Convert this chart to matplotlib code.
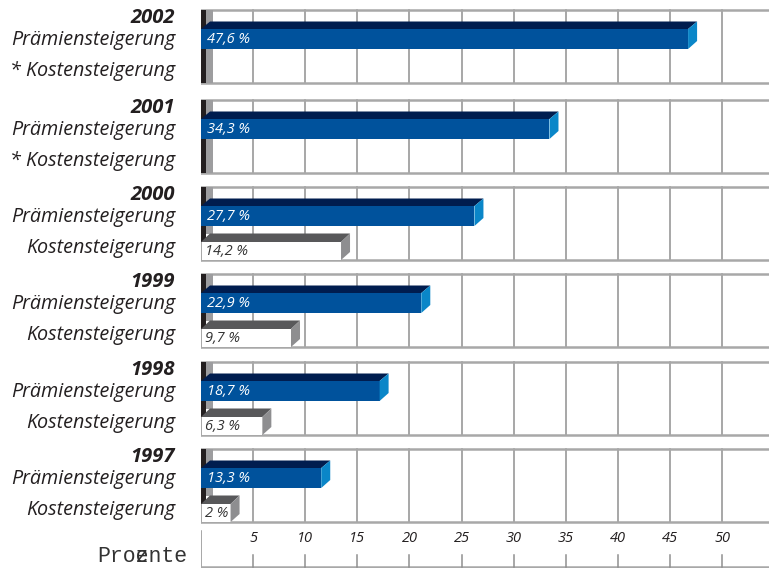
import matplotlib
matplotlib.use("Agg")
import matplotlib.pyplot as plt
from matplotlib.patches import Polygon, Rectangle

years = ['2002', '2001', '2000', '1999', '1998', '1997']
# bar lengths as drawn in the picture (read against the axis)
praemien = [47.6, 34.3, 27.1, 22.0, 18.0, 12.4]
praemien_labels = ['47,6 %', '34,3 %', '27,7 %', '22,9 %', '18,7 %', '13,3 %']
kosten = [None, None, 14.3, 9.5, 6.75, 3.7]
kosten_labels = ['', '', '14,2 %', '9,7 %', '6,3 %', '2 %']
ticks = [5, 10, 15, 20, 25, 30, 35, 40, 45, 50]

# layout (y in pixel-like units, top = 0)
panel_tops = [10, 100, 187, 274, 362, 449]
panel_h = 73
W, H = 769, 568
x0_px = 201
xmax = 54.5
dx = 9 / ((W - x0_px) / xmax)   # 3d depth in data units
dy = 8

blue_front = '#00529c'
blue_top = '#001d4f'
blue_side = '#0a86c8'
gray_top = '#58585a'
gray_side = '#8e8e90'
grid_c = '#8f8f8f'
frame_c = '#a8a8a8'

fig = plt.figure(figsize=(W / 100, H / 100), dpi=100)
ax = fig.add_axes([x0_px / W, 0, (W - x0_px) / W, 1])
ax.set_xlim(0, xmax)
ax.set_ylim(H, 0)
ax.axis('off')

lab_font = 'Open Sans'

for i, T in enumerate(panel_tops):
    B = T + panel_h
    # grid and frame
    for t in ticks:
        ax.plot([t, t], [T, B], color=grid_c, lw=1.1, zorder=1)
    ax.plot([0, xmax], [T, T], color=frame_c, lw=1.8, zorder=1)
    ax.plot([0, xmax], [B, B], color=frame_c, lw=1.8, zorder=1)
    ax.plot([0, 0], [T, B], color=frame_c, lw=1.0, zorder=1)

    # left wall
    has_k = kosten[i] is not None
    wall_b = T + 55 if has_k else B
    wall_lg = T + 47 if has_k else B
    ax.add_patch(Rectangle((0, T), 0.5, wall_b - T, color='#231f20', lw=0, zorder=2))
    ax.add_patch(Rectangle((0.5, T), 0.65, wall_lg - T, color='#9d9d9f', lw=0, zorder=2))

    # blue bar
    v = praemien[i]
    yt, yf, yb = T + 11.5, T + 19, T + 39
    ax.add_patch(Polygon([(0, yf), (v - dx, yf), (v, yt), (dx, yt)], closed=True,
                         color=blue_top, lw=0, zorder=3))
    ax.add_patch(Rectangle((0, yf), v - dx, yb - yf, color=blue_front, lw=0, zorder=3))
    ax.add_patch(Polygon([(v - dx, yf), (v, yt), (v, yb - dy), (v - dx, yb)], closed=True,
                         color=blue_side, lw=0, zorder=3))
    ax.text(0.6, (yf + yb) / 2 + 0.5, praemien_labels[i], color='white', style='italic',
            fontsize=10.5, family=lab_font, ha='left', va='center', zorder=4)

    # gray bar
    if has_k:
        k = kosten[i]
        gt, gf = T + 46.5, T + 55
        ax.add_patch(Polygon([(0, gf), (k - dx, gf), (k, gt), (dx, gt)], closed=True,
                             color=gray_top, lw=0, zorder=3))
        ax.add_patch(Polygon([(k - dx, gf), (k, gt), (k, B - dy), (k - dx, B)], closed=True,
                             color=gray_side, lw=0, zorder=3))
        ax.add_patch(Rectangle((0.05, gf), k - dx - 0.05, B - gf, facecolor='white',
                               edgecolor='none', zorder=2.5))
        ax.text(0.35, (gf + B) / 2 + 0.5, kosten_labels[i], color='#333333', style='italic',
                fontsize=10.5, family=lab_font, ha='left', va='center', zorder=4)

    # labels on the left
    k_lab = 'Kostensteigerung' if has_k else '* Kostensteigerung'
    ax.text(-2.5, T + 8, years[i], fontsize=14.5, weight='bold', style='italic',
            family=lab_font, ha='right', va='center', color='#231f20', clip_on=False)
    ax.text(-2.5, T + 30, 'Prämiensteigerung', fontsize=14.2, style='italic',
            family=lab_font, ha='right', va='center', color='#231f20', clip_on=False)
    ax.text(-2.5, T + 61, k_lab, fontsize=14.2, style='italic',
            family=lab_font, ha='right', va='center', color='#231f20', clip_on=False)

# axis panel
ax.plot([0, 0], [531, 567], color=grid_c, lw=1.1)
ax.plot([0, xmax], [566.5, 566.5], color=frame_c, lw=1.8)
for t in ticks:
    ax.plot([t, t], [555, 567], color=grid_c, lw=1.1)
    ax.text(t, 538, str(t), fontsize=10.5, style='italic', family=lab_font,
            ha='center', va='center', color='#231f20')

# "Prozente" with the z printed over the e, as in the original
ax.text(-10.0, 557, 'Proente', family='Liberation Mono', fontsize=15.5,
        ha='left', va='center', color='#333333', clip_on=False)
ax.text(-10.0, 557, '   z', family='Liberation Mono', fontsize=15.5,
        ha='left', va='center', color='#333333', clip_on=False)

fig.savefig('out.png', dpi=100)
